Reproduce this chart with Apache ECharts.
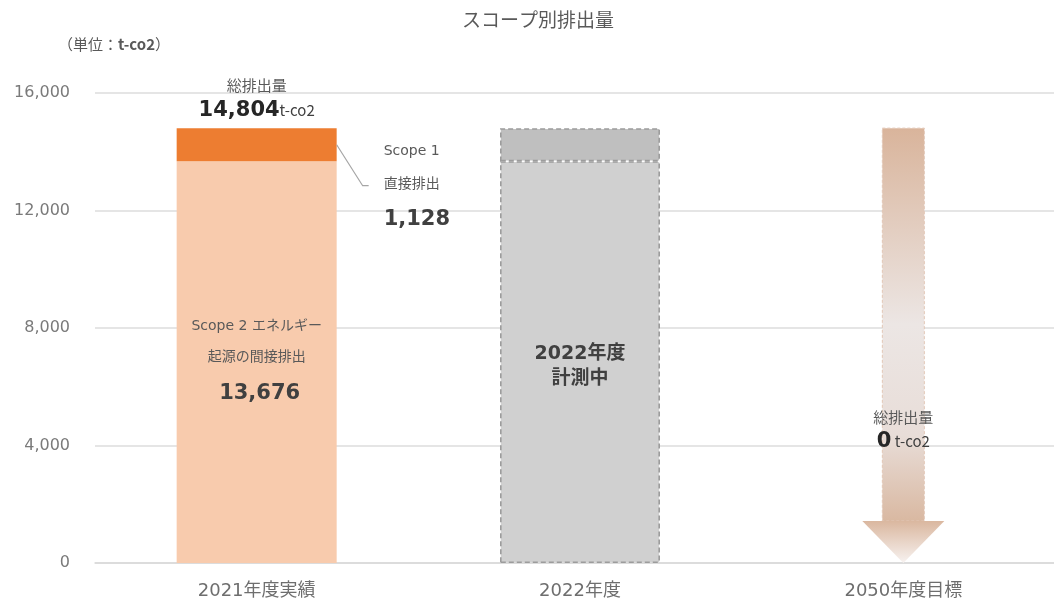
<!DOCTYPE html>
<html>
<head>
<meta charset="utf-8">
<script src="https://cdn.jsdelivr.net/npm/echarts@6/dist/echarts.min.js"></script>
<style>html,body{margin:0;padding:0;background:#fff;overflow:hidden;width:1054px;height:605px}#c{width:1065px;height:605px}</style>
</head>
<body>
<div id="c"></div>
<script>
// ---- data ----
const categories = ['2021年度実績', '2022年度', '2050年度目標'];
const scope2 = [13676, 13676, null];   // 2022 is a placeholder (計測中)
const scope1 = [1128, 1128, null];
const target2050 = 0;
const yTicks = [0, 4000, 8000, 12000, 16000];

const FONT = '"DejaVu Sans","Noto Sans CJK JP",sans-serif';
const JP = '"Noto Sans CJK JP","DejaVu Sans",sans-serif';
const fmt = v => v.toLocaleString('en-US');
const total2021 = scope2[0] + scope1[0];

const chart = echarts.init(document.getElementById('c'), null, {renderer: 'canvas'});

const grayBorder = {borderColor: '#9C9C9C', borderWidth: 1.6, borderType: [5, 3]};

const option = {
  animation: false,
  backgroundColor: '#fff',
  title: {
    text: 'スコープ別排出量', left: 533, top: 5, textAlign: 'center',
    textStyle: {fontFamily: JP, fontSize: 19, fontWeight: 'normal', color: '#595959'}
  },
  graphic: [{
    type: 'text', left: 58, top: 37,
    style: {
      text: '{a|（単位：}{b|t-co2}{a|）}',
      rich: {
        a: {fontFamily: JP, fontSize: 15, fill: '#595959'},
        b: {fontFamily: JP, fontSize: 15, fontWeight: 'bold', fill: '#595959'}
      }
    }
  }],
  grid: {left: 95, right: 0, top: 93, bottom: 42, containLabel: false},
  xAxis: {
    type: 'category', data: categories,
    axisLine: {lineStyle: {color: '#D9D9D9', width: 1.5}},
    axisTick: {show: false},
    axisLabel: {fontFamily: FONT, fontSize: 18, color: '#6E6E6E', margin: 19}
  },
  yAxis: {
    type: 'value', min: yTicks[0], max: yTicks[yTicks.length - 1], interval: 4000,
    axisLine: {show: false}, axisTick: {show: false},
    splitLine: {lineStyle: {color: '#DCDCDC', width: 1.5}},
    axisLabel: {fontFamily: FONT, fontSize: 16, color: '#7A7A7A', margin: 25, formatter: v => fmt(v)}
  },
  series: [
    {
      name: 'Scope 2', type: 'bar', stack: 'total', barWidth: 160,
      data: [
        {
          value: scope2[0], itemStyle: {color: '#F8CBAD'},
          label: {
            show: true, position: 'inside', offset: [0, 1],
            formatter: '{a|Scope 2 エネルギー}\n{s|起源の間接排出}\n{n|' + fmt(scope2[0]) + '}',
            rich: {
              a: {fontFamily: FONT, fontSize: 14, color: '#595959', lineHeight: 30},
              s: {fontFamily: JP, fontSize: 14, color: '#595959', lineHeight: 30},
              n: {fontFamily: FONT, fontSize: 21, fontWeight: 'bold', color: '#404040', lineHeight: 44, padding: [0, 0, 0, 6]}
            }
          }
        },
        {
          value: scope2[1], itemStyle: Object.assign({color: '#D0D0D0'}, grayBorder),
          label: {
            show: true, position: 'inside', offset: [0, 4],
            formatter: '2022年度\n計測中',
            fontFamily: FONT, fontSize: 19, fontWeight: 'bold', color: '#404040', lineHeight: 25
          }
        },
        null
      ]
    },
    {
      name: 'Scope 1', type: 'bar', stack: 'total', barWidth: 160,
      data: [
        {
          value: scope1[0], itemStyle: {color: '#ED7D31'},
          label: {
            show: true, position: 'top', distance: 5,
            formatter: '{t|総排出量}\n{n|' + fmt(total2021) + '}{u|t-co2}',
            rich: {
              t: {fontFamily: JP, fontSize: 15, color: '#595959', lineHeight: 25},
              n: {fontFamily: FONT, fontSize: 21, fontWeight: 'bold', color: '#262626', lineHeight: 25},
              u: {fontFamily: JP, fontSize: 15, color: '#404040', lineHeight: 25}
            }
          }
        },
        {value: scope1[1], itemStyle: Object.assign({color: '#BFBFBF'}, grayBorder)},
        null
      ]
    },
    {
      // Scope 1 side annotation with leader line
      name: 'annot', type: 'custom', silent: true, z: 5,
      data: [[0, scope2[0], scope1[0]]],
      renderItem: function (params, api) {
        const cat = api.value(0), s2 = api.value(1), s1 = api.value(2);
        const mid = api.coord([cat, s2 + s1 / 2]);
        const right = mid[0] + 80;
        const x1 = right + 26, y1 = mid[1] + 41;
        return {
          type: 'group',
          children: [
            {type: 'polyline', shape: {points: [[right, mid[1]], [x1, y1], [x1 + 6, y1]]},
             style: {stroke: '#A6A6A6', lineWidth: 1.2, fill: null}},
            {type: 'text', x: right + 47, y: mid[1] + 7,
             style: {text: 'Scope 1', fontFamily: FONT, fontSize: 14, fill: '#595959', textVerticalAlign: 'middle'}},
            {type: 'text', x: right + 47, y: mid[1] + 38,
             style: {text: '直接排出', fontFamily: JP, fontSize: 14, fill: '#595959', textVerticalAlign: 'middle'}},
            {type: 'text', x: right + 47, y: mid[1] + 75,
             style: {text: fmt(s1), fontFamily: FONT, fontSize: 21, fontWeight: 'bold', fill: '#404040', textVerticalAlign: 'middle'}}
          ]
        };
      }
    },
    {
      // 2050 reduction arrow: from 2021 total down to target
      name: 'arrow', type: 'custom', z: 3,
      data: [[2, total2021, target2050]],
      renderItem: function (params, api) {
        const top = api.coord([api.value(0), api.value(1)]);
        const bot = api.coord([api.value(0), api.value(2)]);
        const cx = top[0], sw = 21, hw = 41, hh = 42;
        const neck = bot[1] - hh;
        const shaftGrad = new echarts.graphic.LinearGradient(0, 0, 0, 1, [
          {offset: 0, color: '#D9B49B'},
          {offset: 0.5, color: '#ECE6E4'},
          {offset: 0.78, color: '#E8DDD8'},
          {offset: 1, color: '#D9B8A1'}
        ]);
        const headGrad = new echarts.graphic.LinearGradient(0, 0, 0, 1, [
          {offset: 0, color: '#DAB79F'},
          {offset: 1, color: '#F7F2F0'}
        ]);
        const yText = api.coord([api.value(0), 5000])[1];
        return {
          type: 'group',
          children: [
            {type: 'rect', shape: {x: cx - sw, y: top[1], width: sw * 2, height: neck - top[1]},
             style: {fill: shaftGrad, stroke: '#E2C7B6', lineWidth: 1, lineDash: [3, 2]}},
            {type: 'polygon', shape: {points: [[cx - hw, neck], [cx + hw, neck], [cx, bot[1]]]},
             style: {fill: headGrad}},
            {type: 'text', x: cx, y: yText + 1,
             style: {text: '総排出量', fontFamily: JP, fontSize: 15, fill: '#595959', textAlign: 'center', textVerticalAlign: 'middle'}},
            {type: 'text', x: cx, y: yText + 25,
             style: {
               text: '{n|' + fmt(api.value(2)) + '}{u| t-co2}', textAlign: 'center', textVerticalAlign: 'middle',
               rich: {
                 n: {fontFamily: FONT, fontSize: 21, fontWeight: 'bold', fill: '#262626'},
                 u: {fontFamily: JP, fontSize: 15, fill: '#404040'}
               }
             }}
          ]
        };
      }
    }
  ]
};
chart.setOption(option);
</script>
</body>
</html>
